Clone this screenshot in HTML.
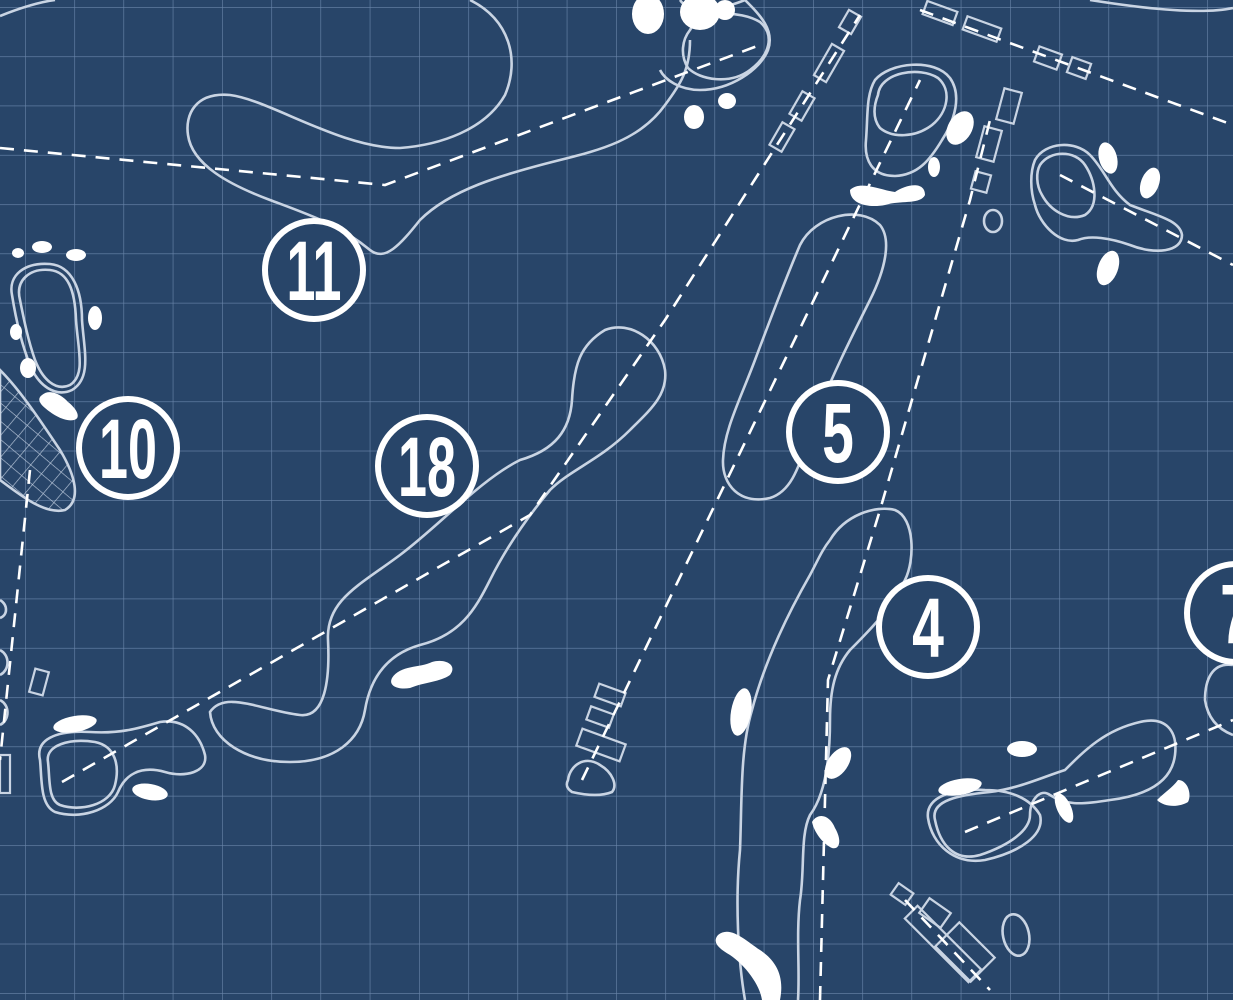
<!DOCTYPE html>
<html><head><meta charset="utf-8"><style>
html,body{margin:0;padding:0;background:#284569;}
svg{display:block}
</style></head><body>
<svg width="1233" height="1000" viewBox="0 0 1233 1000" xmlns="http://www.w3.org/2000/svg">
<defs>
<pattern id="grid" x="25" y="7" width="49.25" height="49.3" patternUnits="userSpaceOnUse">
<path d="M0 0H49.25M0 0V49.3" stroke="#6a86ab" stroke-width="1.2" fill="none"/>
</pattern>
<pattern id="hatch" width="14" height="14" patternUnits="userSpaceOnUse" patternTransform="rotate(40)">
<path d="M0 0H14M0 0V14" stroke="#b9c7da" stroke-width="1.3" fill="none"/>
</pattern>
</defs>
<rect width="1233" height="1000" fill="#284569"/>
<rect width="1233" height="1000" fill="url(#grid)"/>

<g fill="none" stroke="#c9d4e3" stroke-width="2.6">
<path d="M0 16 C20 8 40 2 55 0"/>
<path d="M470 0 C510 20 520 60 505 95 C485 130 440 145 400 148 C340 148 270 100 230 95 C195 92 185 115 188 135 C192 165 230 185 270 200 C310 215 340 225 370 250 C385 262 400 245 420 220 C450 190 500 175 560 160 C600 150 640 140 665 105 C680 85 690 70 690 40"/>
<path d="M1090 0 C1140 8 1200 15 1233 8"/>
<path d="M690 30 C700 10 740 10 760 22 C775 35 770 55 750 70 C730 85 700 80 688 68 C680 55 682 40 690 30 Z"/>
<path d="M680 0 C690 15 720 10 745 0 M745 0 C760 15 775 30 768 50 C760 70 730 90 700 90 C680 90 665 80 660 70"/>
<path d="M210 712 C225 690 260 710 300 715 C325 718 330 680 328 640 C326 600 360 585 400 555 C440 525 480 480 520 460 C555 450 570 430 572 400 C574 365 580 345 605 330 C630 320 660 340 665 370 C668 395 650 410 630 430 C600 460 570 470 550 490 C525 520 505 550 490 580 C475 610 460 635 420 645 C385 655 370 680 365 710 C360 740 335 762 290 762 C245 762 212 740 210 712 Z"/>
<path d="M40 760 C35 740 55 730 90 732 C120 734 140 728 160 722 C185 718 200 735 205 755 C208 772 185 778 165 772 C140 765 125 775 118 792 C110 810 80 820 55 812 C40 805 42 780 40 760 Z"/>
<path d="M48 762 C45 745 70 738 95 742 C115 746 120 765 115 785 C110 805 80 812 60 805 C48 800 50 780 48 762 Z"/>
<path d="M20 300 C15 280 30 268 50 270 C68 272 75 290 76 320 C78 350 86 375 70 385 C55 392 42 378 35 360 C28 340 24 320 20 300 Z"/>
<path d="M12 295 C8 275 25 262 50 264 C72 266 82 290 82 320 C84 350 92 378 72 390 C55 398 38 385 30 365 C22 345 16 320 12 295 Z"/>
<path d="M0 600 C8 605 8 615 0 618 M0 650 C10 655 10 670 0 675 M0 700 C10 705 10 720 0 725"/>
<path d="M800 245 C815 215 860 205 880 225 C892 240 885 270 870 300 C850 340 830 380 815 420 C800 460 795 490 770 498 C740 505 722 485 723 460 C724 430 740 400 755 360 C770 320 785 280 800 245 Z"/>
<path d="M875 80 C890 62 935 58 950 78 C962 95 955 120 942 140 C930 160 918 175 895 176 C872 176 864 160 866 140 C868 115 866 95 875 80 Z"/>
<path d="M878 95 C880 72 920 66 938 78 C952 90 948 112 932 125 C915 138 892 138 880 128 C872 118 874 105 878 95 Z"/>
<path d="M830 540 C845 515 875 505 895 510 C915 518 915 560 905 580 C890 610 870 630 850 650 C835 668 830 690 830 720 C830 760 825 795 810 815 C800 835 805 870 800 900 C796 935 800 970 798 1000 M745 1000 C738 960 735 900 740 850 C742 800 740 750 752 710 C765 660 790 610 810 575 C818 560 822 550 830 540"/>
<path d="M935 820 C930 800 960 795 990 792 C1020 788 1040 778 1065 770 C1085 750 1105 730 1140 722 C1165 716 1178 730 1175 755 C1172 780 1150 795 1110 800 C1080 805 1065 805 1050 795 C1040 788 1030 800 1030 815 C1030 830 1010 845 980 855 C955 862 940 845 935 820 Z"/>
<path d="M928 818 C925 796 955 788 985 790 C1010 790 1030 798 1040 815 C1045 835 1020 852 985 860 C955 865 932 845 928 818 Z"/>
<path d="M1233 665 C1212 662 1205 680 1205 700 C1208 720 1220 730 1233 735"/>
<path d="M1035 160 C1045 142 1075 140 1090 155 C1105 170 1110 190 1130 205 C1155 215 1180 220 1182 235 C1182 252 1155 255 1130 245 C1110 238 1090 235 1078 240 C1060 245 1040 225 1035 205 C1030 190 1030 172 1035 160 Z"/>
<path d="M1040 165 C1050 150 1075 150 1085 165 C1095 180 1100 205 1085 215 C1068 222 1050 210 1042 195 C1036 185 1036 172 1040 165 Z"/>
<path d="M568 780 C570 765 585 755 600 765 C612 772 618 785 612 792 C600 797 585 795 572 792 C566 788 566 784 568 780 Z"/>
<ellipse cx="993" cy="221" rx="9" ry="11"/>
<ellipse cx="1016" cy="935" rx="13" ry="21" transform="rotate(-12 1016 935)"/>
</g>

<path d="M0 370 C20 390 40 420 60 450 C75 475 82 500 65 510 C45 515 20 495 0 480 Z" fill="url(#hatch)" stroke="#c9d4e3" stroke-width="2.6"/>

<g fill="none" stroke="#c9d4e3" stroke-width="2.2">
<rect x="843" y="12" width="14" height="20" transform="rotate(30 850 22)"/>
<rect x="822" y="45" width="14" height="36" transform="rotate(30 829 63)"/>
<rect x="795" y="93" width="14" height="26" transform="rotate(30 802 106)"/>
<rect x="775" y="124" width="14" height="26" transform="rotate(30 782 137)"/>
<rect x="924" y="6" width="32" height="14" transform="rotate(20 940 13)"/>
<rect x="964" y="22" width="36" height="14" transform="rotate(20 982 29)"/>
<rect x="1036" y="50" width="24" height="16" transform="rotate(20 1048 58)"/>
<rect x="1069" y="60" width="20" height="16" transform="rotate(20 1079 68)"/>
<rect x="1000" y="90" width="18" height="32" transform="rotate(15 1009 106)"/>
<rect x="980" y="128" width="18" height="32" transform="rotate(15 989 144)"/>
<rect x="973" y="173" width="16" height="18" transform="rotate(15 981 182)"/>
<rect x="596" y="688" width="28" height="14" transform="rotate(20 610 695)"/>
<rect x="588" y="710" width="24" height="14" transform="rotate(20 600 717)"/>
<rect x="578" y="736" width="46" height="18" transform="rotate(20 601 745)"/>
<rect x="32" y="670" width="14" height="24" transform="rotate(15 39 682)"/>
<rect x="0" y="755" width="10" height="38"/>
<rect x="893" y="887" width="18" height="14" transform="rotate(35 902 894)"/>
<rect x="922" y="904" width="26" height="18" transform="rotate(35 935 913)"/>
<rect x="898" y="935" width="90" height="18" transform="rotate(45 943 944)"/>
<rect x="940" y="935" width="50" height="34" transform="rotate(45 965 952)"/>
</g>

<g fill="none" stroke="#ffffff" stroke-width="2.6" stroke-dasharray="14 10">
<path d="M0 148 L385 185 L760 45"/>
<path d="M62 782 L530 515 L665 320 L860 15"/>
<path d="M582 780 L920 80"/>
<path d="M820 1000 L828 680 L880 510 L970 200 L990 120"/>
<path d="M30 470 L0 760"/>
<path d="M920 10 L1233 125"/>
<path d="M1060 175 L1233 265"/>
<path d="M965 832 L1233 720"/>
<path d="M905 900 L990 990"/>
</g>

<g fill="#ffffff">
<ellipse cx="42" cy="247" rx="10" ry="6"/><ellipse cx="76" cy="255" rx="10" ry="6"/><ellipse cx="18" cy="253" rx="6" ry="5"/>
<ellipse cx="95" cy="318" rx="7" ry="12"/>
<ellipse cx="16" cy="332" rx="6" ry="8"/><ellipse cx="28" cy="368" rx="8" ry="10"/>
<path d="M42 395 C50 388 62 395 68 402 C76 408 82 418 74 420 C64 422 52 414 45 408 C38 402 38 398 42 395 Z"/>
<ellipse cx="648" cy="14" rx="16" ry="20"/><ellipse cx="700" cy="12" rx="20" ry="18"/><ellipse cx="725" cy="10" rx="10" ry="10"/>
<ellipse cx="727" cy="101" rx="9" ry="8"/><ellipse cx="694" cy="117" rx="10" ry="12"/>
<ellipse cx="960" cy="128" rx="12" ry="18" transform="rotate(30 960 128)"/>
<ellipse cx="934" cy="167" rx="6" ry="10"/>
<path d="M850 190 C860 180 880 190 895 192 C905 185 925 180 925 195 C920 205 900 200 885 205 C870 208 850 205 850 190 Z"/>
<ellipse cx="1108" cy="158" rx="9" ry="16" transform="rotate(-15 1108 158)"/>
<ellipse cx="1150" cy="183" rx="9" ry="16" transform="rotate(20 1150 183)"/>
<ellipse cx="1108" cy="268" rx="10" ry="18" transform="rotate(20 1108 268)"/>
<path d="M392 678 C400 665 420 668 432 662 C445 658 458 665 450 675 C440 682 425 682 410 688 C398 690 388 686 392 678 Z"/>
<ellipse cx="741" cy="712" rx="10" ry="24" transform="rotate(10 741 712)"/>
<ellipse cx="838" cy="763" rx="10" ry="18" transform="rotate(35 838 763)"/>
<path d="M812 822 C818 812 830 815 835 828 C842 840 840 850 832 848 C825 845 815 835 812 822 Z"/>
<path d="M718 935 C730 925 745 940 760 950 C775 960 785 975 780 1000 L762 1000 C760 985 745 965 730 955 C718 948 712 942 718 935 Z"/>
<ellipse cx="75" cy="724" rx="22" ry="8" transform="rotate(-10 75 724)"/>
<ellipse cx="150" cy="792" rx="18" ry="8" transform="rotate(10 150 792)"/>
<ellipse cx="1022" cy="749" rx="15" ry="8"/>
<ellipse cx="960" cy="787" rx="22" ry="8" transform="rotate(-10 960 787)"/>
<ellipse cx="1064" cy="808" rx="7" ry="16" transform="rotate(-25 1064 808)"/>
<path d="M1157 800 C1165 792 1172 788 1178 780 C1188 780 1192 795 1188 802 C1180 807 1165 808 1157 800 Z"/>
</g>

<g fill="#284569" stroke="#ffffff" stroke-width="6">
<circle cx="314" cy="270" r="49"/>
<circle cx="128" cy="448" r="49"/>
<circle cx="427" cy="466" r="49"/>
<circle cx="838" cy="432" r="49"/>
<circle cx="928" cy="627" r="49"/>
<circle cx="1236" cy="613" r="49"/>
</g>
<g fill="#ffffff" font-family="Liberation Sans, sans-serif" font-weight="bold" font-size="84" text-anchor="middle">
<text transform="translate(314 300) scale(0.62 1)">11</text>
<text transform="translate(128 478) scale(0.62 1)">10</text>
<text transform="translate(427 496) scale(0.62 1)">18</text>
<text transform="translate(838 462) scale(0.68 1)">5</text>
<text transform="translate(928 657) scale(0.68 1)">4</text>
<text transform="translate(1236 643) scale(0.68 1)">7</text>
</g>
</svg>
</body></html>
